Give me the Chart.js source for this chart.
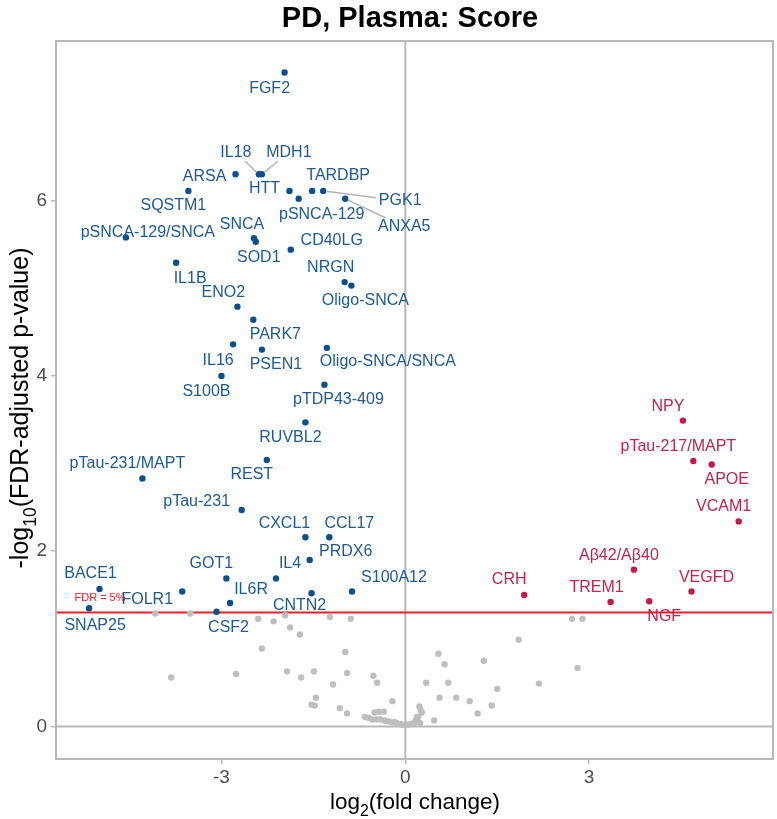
<!DOCTYPE html>
<html>
<head>
<meta charset="utf-8">
<script src="https://cdn.jsdelivr.net/npm/chart.js@4"></script>
<style>
  body { margin: 0; background: #fff; }
  #wrap { width: 777px; height: 819px; }
</style>
</head>
<body>
<div id="wrap"><canvas id="volcano"></canvas></div>
<script>
// Significant, lower in PD (blue)
const downNames = ["FGF2", "IL18", "MDH1", "ARSA", "SQSTM1", "HTT", "pSNCA-129", "TARDBP", "PGK1", "ANXA5",
  "pSNCA-129/SNCA", "SNCA", "SOD1", "CD40LG", "IL1B", "NRGN", "Oligo-SNCA", "ENO2", "PARK7", "IL16",
  "PSEN1", "Oligo-SNCA/SNCA", "S100B", "pTDP43-409", "RUVBL2", "pTau-231/MAPT", "REST", "pTau-231", "CXCL1", "CCL17",
  "PRDX6", "GOT1", "IL4", "BACE1", "FOLR1", "CNTN2", "S100A12", "IL6R", "SNAP25", "CSF2"];
const downLogFC = [-1.97, -2.39, -2.34, -2.77, -3.54, -1.89, -1.74, -1.52, -1.34, -0.98,
  -4.56, -2.47, -2.44, -1.87, -3.74, -0.99, -0.88, -2.74, -2.48, -2.81,
  -2.34, -1.28, -3.00, -1.32, -1.63, -4.29, -2.26, -2.67, -1.63, -1.24,
  -1.56, -2.92, -2.11, -4.99, -3.64, -1.53, -0.87, -2.86, -5.16, -3.08];
const downLogP = [7.46, 6.30, 6.30, 6.30, 6.11, 6.11, 6.02, 6.11, 6.11, 6.02,
  5.58, 5.57, 5.53, 5.44, 5.29, 5.07, 5.03, 4.79, 4.64, 4.36,
  4.30, 4.32, 4.00, 3.90, 3.47, 2.83, 3.04, 2.47, 2.16, 2.16,
  1.90, 1.69, 1.69, 1.57, 1.54, 1.52, 1.54, 1.41, 1.35, 1.31];

// Significant, higher in PD (red)
const upNames = ["NPY", "pTau-217/MAPT", "APOE", "VCAM1", "Aβ42/Aβ40", "CRH", "TREM1", "NGF", "VEGFD"];
const upLogFC = [4.53, 4.70, 5.00, 5.44, 3.73, 1.94, 3.35, 3.98, 4.67];
const upLogP = [3.49, 3.03, 2.99, 2.34, 1.79, 1.50, 1.42, 1.43, 1.54];

// Not significant (grey)
const nsLogFC = [-4.08, -3.51, -2.40, -2.15, -1.96, -1.88, -1.72, -1.23, -0.89, -2.34,
  -0.98, -3.82, -2.76, -1.93, -1.70, -1.49, -0.95, -1.18, -0.52, -0.46,
  -1.46, -1.53, -1.48, -1.07, -0.95, -0.21, -0.50, -0.43, -0.35,
  -0.66, -0.60, -0.54, -0.47, -0.41, -0.34, -0.29, -0.23, -0.18, -0.14,
  -0.09, -0.05, 0.00, 0.04, 0.09, 0.14, 0.17, 0.19,
  0.23, 0.25, 0.27, 0.21, 0.24, 0.47, 0.34, 0.54, 0.64, 0.70,
  0.56, 0.83, 1.05, 1.18, 1.28, 1.41, 1.50, 1.85, 2.18, 2.72, 2.89, 2.81];
const nsLogP = [1.29, 1.29, 1.23, 1.20, 1.27, 1.13, 1.05, 1.25, 1.23, 0.89,
  0.85, 0.56, 0.60, 0.63, 0.56, 0.63, 0.61, 0.48, 0.58, 0.50,
  0.33, 0.25, 0.24, 0.21, 0.15, 0.29, 0.16, 0.17, 0.17,
  0.11, 0.10, 0.08, 0.08, 0.08, 0.07, 0.06, 0.05, 0.05, 0.04,
  0.03, 0.02, 0.02, 0.02, 0.03, 0.04, 0.07, 0.11,
  0.23, 0.19, 0.16, 0.11, 0.04, 0.07, 0.50, 0.83, 0.71, 0.50,
  0.33, 0.33, 0.29, 0.15, 0.75, 0.24, 0.43, 0.99, 0.49, 1.23, 1.23, 0.67];

const xTicks = [-3, 0, 3];
const yTicks = [0, 2, 4, 6];
const fdrCut = 0.05;

// label placement (pixel offset of the text centre from its point), like ggrepel did it
const labelShift = {
  "FGF2": [-15, 16], "IL18": [-23, -22], "MDH1": [27, -22], "ARSA": [-31, 2], "SQSTM1": [-15, 15],
  "HTT": [-25, -2], "pSNCA-129": [23, 16], "TARDBP": [26, -15], "PGK1": [77, 10], "ANXA5": [59, 28],
  "pSNCA-129/SNCA": [22, -5], "SNCA": [-12, -14], "SOD1": [3, 16], "CD40LG": [41, -9], "IL1B": [14, 16],
  "NRGN": [-14, -14], "Oligo-SNCA": [14, 15], "ENO2": [-14, -14], "PARK7": [22, 15], "IL16": [-15, 16],
  "PSEN1": [14, 15], "Oligo-SNCA/SNCA": [61, 14], "S100B": [-15, 16], "pTDP43-409": [14, 15], "RUVBL2": [-15, 15],
  "pTau-231/MAPT": [-15, -15], "REST": [-15, 15], "pTau-231": [-45, -8], "CXCL1": [-21, -14], "CCL17": [20, -14],
  "PRDX6": [36, -8], "GOT1": [-15, -15], "IL4": [14, -15], "BACE1": [-9, -15], "FOLR1": [-35, 8],
  "CNTN2": [-12, 12], "S100A12": [42, -14], "IL6R": [21, -13], "SNAP25": [6, 17], "CSF2": [12, 16],
  "NPY": [-15, -14], "pTau-217/MAPT": [-15, -14], "APOE": [15, 15], "VCAM1": [-15, -15], "Aβ42/Aβ40": [-15, -14],
  "CRH": [-15, -15], "TREM1": [-14, -14], "NGF": [15, 15], "VEGFD": [15, -14]
};
const withSegment = ["IL18", "MDH1", "PGK1", "ANXA5"];

const FONT = '"Liberation Sans", Arial, sans-serif';
const BLUE = "#0b4f8c", BLUE_TXT = "#1c5a93";
const RED = "#c8184a", RED_TXT = "#c0234f";
const GREY = "#bfbfbf", FRAME = "#b8b8b8";

function toPoints(xs, ys) {
  return xs.map((x, i) => ({ x: x, y: ys[i] }));
}

const volcanoDecor = {
  id: "volcanoDecor",
  beforeDraw(chart) {
    const c = chart.ctx;
    c.save();
    c.fillStyle = "#fff";
    c.fillRect(0, 0, chart.width, chart.height);
    c.restore();
  },
  beforeDatasetsDraw(chart) {
    const c = chart.ctx, a = chart.chartArea;
    const xs = chart.scales.x, ys = chart.scales.y;
    c.save();
    c.strokeStyle = FRAME;
    c.lineWidth = 2;
    const x0 = xs.getPixelForValue(0), y0 = ys.getPixelForValue(0);
    c.beginPath();
    c.moveTo(x0, a.top); c.lineTo(x0, a.bottom);
    c.moveTo(a.left, y0); c.lineTo(a.right, y0);
    c.stroke();
    // FDR threshold
    const yf = ys.getPixelForValue(-Math.log10(fdrCut));
    c.strokeStyle = "#e8202a";
    c.beginPath();
    c.moveTo(a.left, yf); c.lineTo(a.right, yf);
    c.stroke();
    c.fillStyle = "#e8202a";
    c.font = "11px " + FONT;
    c.textAlign = "center";
    c.textBaseline = "middle";
    c.fillText("FDR = 5%", a.left + 44, yf - 15);
    c.restore();
  },
  afterDatasetsDraw(chart) {
    const c = chart.ctx, a = chart.chartArea;
    const xs = chart.scales.x, ys = chart.scales.y;
    c.save();
    c.font = "16px " + FONT;
    c.textAlign = "center";
    c.textBaseline = "middle";
    const groups = [[downNames, downLogFC, downLogP, BLUE_TXT], [upNames, upLogFC, upLogP, RED_TXT]];
    groups.forEach(([names, fx, fy, col]) => {
      names.forEach((n, i) => {
        const px = xs.getPixelForValue(fx[i]), py = ys.getPixelForValue(fy[i]);
        const s = labelShift[n] || [0, -14];
        const lx = px + s[0], ly = py + s[1];
        if (withSegment.includes(n)) {
          const hw = c.measureText(n).width / 2 + 3, hh = 9;
          const dx = px - lx, dy = py - ly;
          const t = Math.min(Math.abs(hw / (dx || 1e-6)), Math.abs(hh / (dy || 1e-6)));
          c.strokeStyle = "#b3b3b3";
          c.lineWidth = 1.5;
          c.beginPath();
          c.moveTo(lx + dx * t, ly + dy * t);
          c.lineTo(px - dx / Math.hypot(dx, dy) * 3, py - dy / Math.hypot(dx, dy) * 3);
          c.stroke();
        }
        c.fillStyle = col;
        c.fillText(n, lx, ly);
      });
    });
    // panel frame
    c.strokeStyle = FRAME;
    c.lineWidth = 2;
    c.strokeRect(a.left, a.top, a.right - a.left, a.bottom - a.top);

    // title
    c.fillStyle = "#000";
    c.font = "bold 29px " + FONT;
    c.textAlign = "center";
    c.textBaseline = "alphabetic";
    c.fillText("PD, Plasma: Score", 410, 27);

    // axis titles with subscripts
    const drawSub = (parts, size) => {
      let w = 0;
      parts.forEach(p => { c.font = (p[1] ? size * 0.7 : size) + "px " + FONT; w += c.measureText(p[0]).width; });
      let x = -w / 2;
      c.textAlign = "left";
      parts.forEach(p => {
        c.font = (p[1] ? size * 0.7 : size) + "px " + FONT;
        c.fillText(p[0], x, p[1] ? size * 0.3 : 0);
        x += c.measureText(p[0]).width;
      });
    };
    c.save();
    c.translate(415, 809);
    drawSub([["log", 0], ["2", 1], ["(fold change)", 0]], 22.5);
    c.restore();
    c.save();
    c.translate(28, 408);
    c.rotate(-Math.PI / 2);
    drawSub([["-log", 0], ["10", 1], ["(FDR-adjusted p-value)", 0]], 25);
    c.restore();
    c.restore();
  }
};

const ctx = document.getElementById("volcano").getContext("2d");
new Chart(ctx, {
  type: "scatter",
  data: {
    datasets: [
      { label: "ns", data: toPoints(nsLogFC, nsLogP), backgroundColor: GREY, pointRadius: 3.2, borderWidth: 0 },
      { label: "down", data: toPoints(downLogFC, downLogP), backgroundColor: BLUE, pointRadius: 3.2, borderWidth: 0 },
      { label: "up", data: toPoints(upLogFC, upLogP), backgroundColor: RED, pointRadius: 3.2, borderWidth: 0 }
    ]
  },
  options: {
    responsive: true,
    maintainAspectRatio: false,
    animation: false,
    events: [],
    layout: { padding: { top: 41, right: 1, left: 0, bottom: 0 } },
    plugins: { legend: { display: false }, tooltip: { enabled: false } },
    scales: {
      x: {
        type: "linear",
        min: -5.7,
        max: 6.0,
        afterBuildTicks: s => { s.ticks = xTicks.map(v => ({ value: v })); },
        afterFit: s => { s.height = 60; },
        grid: { drawOnChartArea: false, drawTicks: true, tickLength: 5, color: FRAME, lineWidth: 1.5 },
        border: { display: false },
        ticks: { color: "#4d4d4d", font: { family: FONT, size: 19 }, padding: 2, maxRotation: 0 }
      },
      y: {
        type: "linear",
        min: -0.37,
        max: 7.82,
        afterBuildTicks: s => { s.ticks = yTicks.map(v => ({ value: v })); },
        afterFit: s => { s.width = 56; },
        grid: { drawOnChartArea: false, drawTicks: true, tickLength: 5, color: FRAME, lineWidth: 1.5 },
        border: { display: false },
        ticks: { color: "#4d4d4d", font: { family: FONT, size: 19 }, padding: 4 }
      }
    }
  },
  plugins: [volcanoDecor]
});
</script>
</body>
</html>
